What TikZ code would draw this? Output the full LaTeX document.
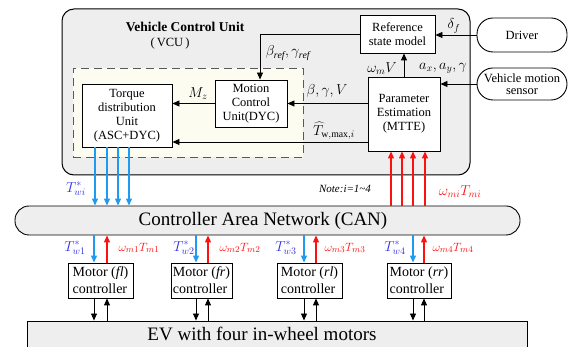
\documentclass[tikz,border=0pt]{standalone}
\usepackage{fontspec}
\setmainfont{Liberation Serif}
\usetikzlibrary{arrows.meta,calc}
\definecolor{vcugray}{HTML}{EEEEEE}
\definecolor{dashfill}{HTML}{FDFCF0}
\definecolor{arrblue}{HTML}{1E9BF0}
\definecolor{lblblue}{HTML}{2E2EE6}
\definecolor{myred}{HTML}{FF1010}
\begin{document}
\begin{tikzpicture}[x=1pt,y=-1pt, line width=0.9pt,
  box/.style={draw, fill=white, align=center, inner sep=0pt, font=\fontsize{12.5}{14}\selectfont},
  pill/.style={draw, fill=white, rounded corners=16pt, align=center, inner sep=0pt, font=\fontsize{12.5}{11.5}\selectfont},
  motorbox/.style={draw, fill=white, align=left, inner sep=0pt, minimum height=35, font=\fontsize{14}{17}\selectfont},
  arr/.style={-{Triangle[length=7pt,width=6pt]}},
  blarr/.style={arr, color=arrblue, line width=1.2pt},
  rdarr/.style={arr, color=myred, line width=1.2pt},
  lbl/.style={inner sep=0pt, font=\fontsize{14}{14}\selectfont},
  bl/.style={lbl, text=lblblue, font=\fontsize{14.5}{14.5}\selectfont},
  rl/.style={lbl, text=myred, font=\fontsize{13}{13}\selectfont},
]
\useasboundingbox (0,0) rectangle (571,347);
% VCU background
\node[draw, fill=vcugray, rounded corners=12pt, minimum width=408, minimum height=166, line width=1pt] (vcu) at (266,92) {};
\node[draw=gray!70!black, dashed, dash pattern=on 8pt off 5pt, fill=dashfill, minimum width=230, minimum height=89] (dash) at (188,112.5) {};
\node[inner sep=0pt, font=\bfseries\fontsize{13.5}{14}\selectfont] (title) at (185,27) {Vehicle Control Unit};
\node[inner sep=0pt, font=\fontsize{12.5}{14}\selectfont] (vcu2) at (170,43) {(\,VCU\,)};
% blocks
\node[box, minimum width=90, minimum height=63] (tdu) at (127,115.5) {Torque\\distribution\\Unit\\(ASC+DYC)};
\node[box, minimum width=72, minimum height=47] (mcu) at (251,103.5) {Motion\\Control\\Unit(DYC)};
\node[box, minimum width=75, minimum height=38] (rsm) at (397.5,34) {Reference\\state model};
\node[box, minimum width=72, minimum height=74] (pe) at (404,114) {Parameter\\Estimation\\(MTTE)};
\node[pill, minimum width=90, minimum height=34] (drv) at (522,35) {Driver};
\node[pill, minimum width=90, minimum height=32] (vms) at (522,84) {Vehicle motion\\sensor};
% CAN
\node[draw, fill=vcugray, rounded corners=14pt, minimum width=505, minimum height=29] (can) at (267.5,220.5) {};
\node[inner sep=0pt, font=\fontsize{19}{19}\selectfont] (cantext) at (263,221) {Controller Area Network (CAN)};
% motors
\node[motorbox, minimum width=65] (m1) at (100.5,280.5) {Motor (\textit{fl})\\controller};
\node[motorbox, minimum width=61] (m2) at (201.5,280.5) {Motor (\textit{fr})\\controller};
\node[motorbox, minimum width=65] (m3) at (309.5,280.5) {Motor (\textit{rl})\\controller};
\node[motorbox, minimum width=64] (m4) at (419,280.5) {Motor (\textit{rr})\\controller};
% EV
\node[draw, fill=vcugray, minimum width=500, minimum height=28] (ev) at (277,335) {};
\node[inner sep=0pt, font=\fontsize{19}{19}\selectfont] (evtext) at (262,334) {EV with four in-wheel motors};
% VCU connectors
\coordinate (xr) at (260,0);
\coordinate (yt) at (0,142);
\draw[arr] (rsm.west) -| (mcu.north -| xr);
\draw[arr] (mcu.west) -- (mcu.west -| tdu.east);
\draw[arr] (pe.west |- mcu.east) -- (mcu.east);
\draw[arr] (pe.west |- yt) -- (tdu.east |- yt);
\draw[arr] (pe.north) -- (pe.north |- rsm.south);
\draw[arr] (drv.west) -- (drv.west -| rsm.east);
\draw[arr] (vms.west) -- (vms.west -| pe.east);
% labels in VCU
\node[lbl] (lref) at (288,53) {$\beta_{\mathit{ref}},\gamma_{\mathit{ref}}$};
\node[lbl] (lmz) at (198,94) {$M_z$};
\node[lbl] (lbgv) at (327,91) {$\beta,\gamma,V$};
\node[lbl] (lt) at (334,131) {$\widehat{T}_{\mathrm{w,max},i}$};
\node[lbl] (lwv) at (382,69) {$\omega_m V$};
\node[lbl] (lax) at (443,68) {$a_x,a_y,\gamma$};
\node[lbl] (ldf) at (454,26) {$\delta_f$};
% VCU <-> CAN
\foreach \x in {95,107,118,129} {
  \coordinate (c) at (\x,0);
  \draw[blarr] (tdu.south -| c) -- (can.north -| c);
}
\foreach \x in {391,402,413,425} {
  \coordinate (c) at (\x,0);
  \draw[rdarr] (can.north -| c) -- (pe.south -| c);
}
\node[bl] (ltwi) at (76,189) {$T^*_{wi}$};
\node[inner sep=0pt, font=\itshape\fontsize{11}{11}\selectfont] (note) at (345,189) {Note:i=1\textasciitilde4};
\node[rl, font=\fontsize{14}{14}\selectfont] (lwmi) at (460,192) {$\omega_{mi}T_{mi}$};
% CAN <-> motors <-> EV
\foreach \k/\xb/\xr in {1/94/107, 2/196/208, 3/304/316, 4/413/424} {
  \coordinate (b) at (\xb,0);
  \coordinate (r) at (\xr,0);
  \draw[blarr] (can.south -| b) -- (m\k.north -| b);
  \draw[rdarr] (m\k.north -| r) -- (can.south -| r);
  \draw[arr] (m\k.south -| b) -- (ev.north -| b);
  \draw[arr] (ev.north -| r) -- (m\k.south -| r);
}
\node[bl] (lt1) at (75,248) {$T^*_{w1}$};
\node[rl] (lw1) at (139,248) {$\omega_{m1}T_{m1}$};
\node[bl] (lt2) at (184,248) {$T^*_{w2}$};
\node[rl] (lw2) at (240,248) {$\omega_{m2}T_{m2}$};
\node[bl] (lt3) at (286,248) {$T^*_{w3}$};
\node[rl] (lw3) at (345,248) {$\omega_{m3}T_{m3}$};
\node[bl] (lt4) at (395,248) {$T^*_{w4}$};
\node[rl] (lw4) at (453,248) {$\omega_{m4}T_{m4}$};
\end{tikzpicture}
\end{document}
